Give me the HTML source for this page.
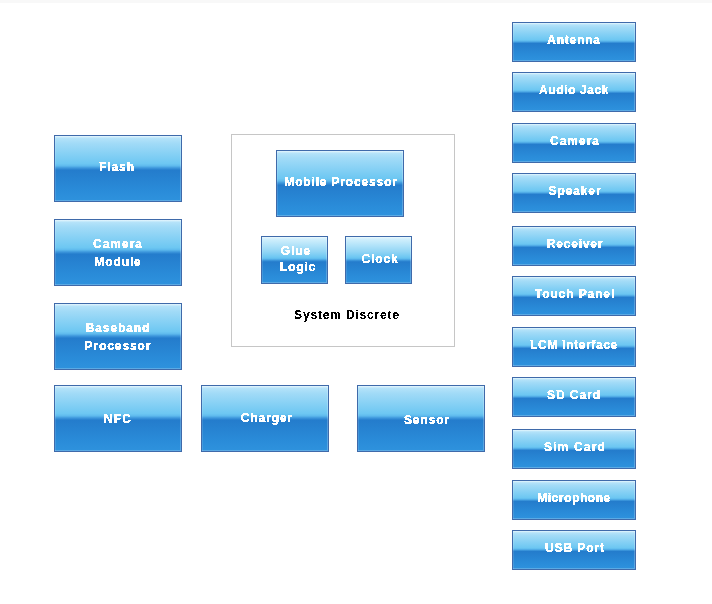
<!DOCTYPE html><html><head><meta charset="utf-8"><style>
html,body{margin:0;padding:0;background:#fff;width:712px;height:604px;overflow:hidden;position:relative}
.top{position:absolute;left:0;top:0;width:712px;height:3px;background:#f8f8f8}
.b{position:absolute;border:1px solid #3f6aaa;
background:linear-gradient(to bottom,#def4fd 0%,#b3e2f9 5%,#a2dbf7 12%,#6dc7f2 44%,#5ebaed 47.5%,#3f99dd 50.5%,#247ccc 54%,#2a8cd9 85%,#2e92dd 100%);
box-shadow:inset -1px -1px 0 rgba(255,255,255,0.22),inset 1px 1px 0 rgba(255,255,255,0.12)}
.s{background:linear-gradient(to bottom,#e6f7fd 0%,#d0effc 5%,#b2e3f9 18%,#92d5f5 32%,#6dc7f2 44%,#5ebaed 47.5%,#3f99dd 50.5%,#247ccc 54%,#2a8cd9 85%,#2e92dd 100%)}
.L{background:linear-gradient(to bottom,#def4fd 0%,#b3e2f9 4%,#a2dbf7 11%,#6dc7f2 42.5%,#5ebaed 46%,#3f99dd 49%,#247ccc 52.5%,#2a8cd9 85%,#2e92dd 100%)}
.c{position:absolute;border:1px solid #c6c6c6;background:transparent}
.t{position:absolute;width:200px;text-align:center;font-family:"Liberation Sans",sans-serif;font-weight:bold;font-size:12px;line-height:16px;color:#fff;letter-spacing:0.9px;white-space:nowrap;filter:url(#th);-webkit-text-stroke:0.25px #fff;margin-top:-3.41px}
.k{color:#000;filter:url(#th2);-webkit-text-stroke:0.12px #000}
</style></head><body><svg width="0" height="0" style="position:absolute"><filter id="th" x="-10%" y="-30%" width="120%" height="160%"><feComponentTransfer><feFuncA type="discrete" tableValues="0 0 1 1"/></feComponentTransfer></filter><filter id="th2" x="-10%" y="-30%" width="120%" height="160%"><feComponentTransfer><feFuncA type="discrete" tableValues="0 0 1 1"/></feComponentTransfer></filter></svg><div class="top"></div>
<div class="c" style="left:231px;top:134px;width:222px;height:211px"></div>
<div class="b L" style="left:54px;top:135px;width:126px;height:65px"></div><div class="t" style="left:17px;top:162px">Flash</div><div class="b L" style="left:54px;top:219px;width:126px;height:65px"></div><div class="t" style="left:18px;top:239px;letter-spacing:1.0px">Camera</div><div class="t" style="left:18px;top:257px">Module</div><div class="b L" style="left:54px;top:303px;width:126px;height:65px"></div><div class="t" style="left:18px;top:323px">Baseband</div><div class="t" style="left:18px;top:341px">Processor</div><div class="b L" style="left:54px;top:385px;width:126px;height:65px"></div><div class="t" style="left:18px;top:414px;letter-spacing:1.3px">NFC</div><div class="b L" style="left:201px;top:385px;width:126px;height:65px"></div><div class="t" style="left:167px;top:413px">Charger</div><div class="b L" style="left:357px;top:385px;width:126px;height:65px"></div><div class="t" style="left:327px;top:415px">Sensor</div><div class="b L" style="left:276px;top:150px;width:126px;height:65px"></div><div class="t" style="left:241px;top:177px;letter-spacing:0.83px">Mobile Processor</div><div class="b s" style="left:261px;top:236px;width:65px;height:46px"></div><div class="t" style="left:196px;top:246px">Glue</div><div class="t" style="left:198px;top:262px">Logic</div><div class="b s" style="left:345px;top:236px;width:65px;height:46px"></div><div class="t" style="left:280px;top:254px">Clock</div><div class="b" style="left:512px;top:22px;width:122px;height:38px"></div><div class="t" style="left:474px;top:35px;letter-spacing:0.8px">Antenna</div><div class="b" style="left:512px;top:72px;width:122px;height:38px"></div><div class="t" style="left:474px;top:85px;letter-spacing:0.6px">Audio Jack</div><div class="b" style="left:512px;top:123px;width:122px;height:38px"></div><div class="t" style="left:475px;top:136px;letter-spacing:1.0px">Camera</div><div class="b" style="left:512px;top:173px;width:122px;height:38px"></div><div class="t" style="left:475px;top:186px">Speaker</div><div class="b" style="left:512px;top:226px;width:122px;height:38px"></div><div class="t" style="left:475px;top:239px;letter-spacing:0.78px">Receiver</div><div class="b" style="left:512px;top:276px;width:122px;height:38px"></div><div class="t" style="left:475px;top:289px">Touch Panel</div><div class="b" style="left:512px;top:327px;width:122px;height:38px"></div><div class="t" style="left:474px;top:340px;letter-spacing:0.65px">LCM Interface</div><div class="b" style="left:512px;top:377px;width:122px;height:38px"></div><div class="t" style="left:474px;top:390px;letter-spacing:0.95px">SD Card</div><div class="b" style="left:512px;top:429px;width:122px;height:38px"></div><div class="t" style="left:475px;top:442px;letter-spacing:1.19px">Sim Card</div><div class="b" style="left:512px;top:480px;width:122px;height:38px"></div><div class="t" style="left:474px;top:493px;letter-spacing:0.57px">Microphone</div><div class="b" style="left:512px;top:530px;width:122px;height:38px"></div><div class="t" style="left:475px;top:543px">USB Port</div>
<div class="t k" style="left:247px;top:310px;letter-spacing:0.83px">System Discrete</div>
</body></html>
